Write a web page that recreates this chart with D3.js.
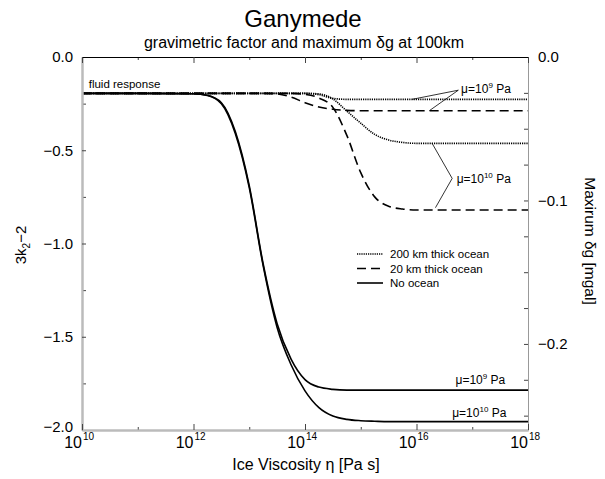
<!DOCTYPE html>
<html>
<head>
<meta charset="utf-8">
<script src="https://cdn.jsdelivr.net/npm/d3@7"></script>
<style>
body { margin: 0; background: #fff; }
text { font-family: "Liberation Sans", Arial, Helvetica, sans-serif; fill: #000; }
</style>
</head>
<body>
<div id="vis"></div>
<script>
// log10 of ice viscosity [Pa s]
var logEta = [10, 11, 12, 12.25, 12.5, 12.75, 13, 13.25, 13.5, 13.75, 14, 14.25, 14.5, 14.75, 15, 15.25, 15.5, 15.75, 16, 17, 18];

// 3k2-2
var noOcean_mu9   = [-0.195, -0.195, -0.197, -0.205, -0.245, -0.40, -0.69, -1.11, -1.43, -1.62, -1.73, -1.77, -1.782, -1.786, -1.786, -1.786, -1.786, -1.786, -1.786, -1.786, -1.786];
var noOcean_mu10  = [-0.195, -0.195, -0.197, -0.206, -0.25, -0.41, -0.70, -1.12, -1.45, -1.65, -1.79, -1.88, -1.925, -1.943, -1.95, -1.953, -1.955, -1.955, -1.955, -1.955, -1.955];
var ocean20_mu9   = [-0.195, -0.195, -0.195, -0.195, -0.195, -0.195, -0.195, -0.195, -0.198, -0.215, -0.245, -0.268, -0.28, -0.286, -0.288, -0.288, -0.288, -0.288, -0.288, -0.288, -0.288];
var ocean20_mu10  = [-0.195, -0.195, -0.195, -0.195, -0.195, -0.195, -0.195, -0.195, -0.195, -0.195, -0.20, -0.22, -0.27, -0.42, -0.62, -0.75, -0.80, -0.815, -0.82, -0.82, -0.82];
var ocean200_mu9  = [-0.195, -0.195, -0.195, -0.195, -0.195, -0.195, -0.195, -0.195, -0.195, -0.195, -0.195, -0.202, -0.222, -0.227, -0.227, -0.227, -0.227, -0.227, -0.227, -0.227, -0.227];
var ocean200_mu10 = [-0.195, -0.195, -0.195, -0.195, -0.195, -0.195, -0.195, -0.195, -0.195, -0.195, -0.195, -0.198, -0.225, -0.29, -0.355, -0.415, -0.445, -0.458, -0.463, -0.463, -0.463];

var leftMajor  = [0, -0.5, -1, -1.5, -2];
var leftMinor  = [-0.25, -0.75, -1.25, -1.75];
var rightMajor = [0, -0.1, -0.2];
var rightMinor = [-0.025, -0.05, -0.075, -0.125, -0.15, -0.175, -0.225, -0.25];
var xExpMajor  = [10, 12, 14, 16, 18];
var xExpMinor  = [11, 13, 15, 17];

var legendNames  = ["200 km thick ocean", "20 km thick ocean", "No ocean"];
var legendDashes = ["1.2,1", "9,5", null];

var width = 605, height = 479;
var margin = {top: 57, right: 77, bottom: 49, left: 82};
var w = width - margin.left - margin.right;
var h = height - margin.top - margin.bottom;

var svg = d3.select("#vis")
  .append("svg")
  .attr("width", width)
  .attr("height", height);

var g = svg.append("g")
  .attr("transform", "translate(" + margin.left + "," + margin.top + ")");

var xScale = d3.scaleLinear().domain([10, 18]).range([0, w]);
var yScale = d3.scaleLinear().domain([0, -2]).range([0, h]);
var y2Scale = d3.scaleLinear().domain([0, -0.26]).range([0, h]);

// titles
svg.append("text")
  .attr("x", 303).attr("y", 27)
  .attr("text-anchor", "middle")
  .style("font-size", "24px")
  .text("Ganymede");

svg.append("text")
  .attr("x", 304).attr("y", 48)
  .attr("text-anchor", "middle")
  .style("font-size", "16px")
  .text("gravimetric factor and maximum δg at 100km");

// curves
var line = d3.line()
  .x(function(d){ return xScale(d[0]); })
  .y(function(d){ return yScale(d[1]); })
  .curve(d3.curveMonotoneX);

function pairs(vals){
  return logEta.map(function(e, i){ return [e, vals[i]]; });
}

var series = [
  {vals: ocean200_mu9,  dash: "1.2,1", sw: 1.7},
  {vals: ocean200_mu10, dash: "1.2,1", sw: 1.6},
  {vals: ocean20_mu9,   dash: "9,5",   sw: 1.6},
  {vals: ocean20_mu10,  dash: "9,5",   sw: 1.6},
  {vals: noOcean_mu9,   dash: null,    sw: 1.6},
  {vals: noOcean_mu10,  dash: null,    sw: 1.6}
];

g.selectAll(".curve")
  .data(series)
  .enter()
  .append("path")
  .attr("class", "curve")
  .attr("d", function(d){ return line(pairs(d.vals)); })
  .attr("fill", "none")
  .attr("stroke", "#000")
  .attr("stroke-width", function(d){ return d.sw; })
  .attr("stroke-dasharray", function(d){ return d.dash; });

// axes
function styleAxis(sel, col, wd){
  sel.select(".domain").attr("stroke", col).attr("stroke-width", wd);
  sel.selectAll(".tick line").attr("stroke", "#444");
}

// left
g.append("g")
  .call(d3.axisLeft(yScale).tickValues(leftMinor).tickSizeInner(-4).tickSizeOuter(0).tickFormat(""))
  .call(styleAxis, "#bbb", 2);
var yl = g.append("g")
  .call(d3.axisLeft(yScale).tickValues(leftMajor).tickSizeInner(-4).tickSizeOuter(0).tickPadding(9).tickFormat(d3.format(".1f")))
  .call(styleAxis, "#bbb", 2);
yl.selectAll(".tick text").style("font-size", "15px").attr("fill", "#000");
yl.selectAll(".tick text").filter(function(d){ return d == -2; }).attr("dy", "0.1em");

// right
g.append("g")
  .attr("transform", "translate(" + w + ",0)")
  .call(d3.axisRight(y2Scale).tickValues(rightMinor).tickSizeInner(-4).tickSizeOuter(0).tickFormat(""))
  .call(styleAxis, "#999", 1);
var yr = g.append("g")
  .attr("transform", "translate(" + w + ",0)")
  .call(d3.axisRight(y2Scale).tickValues(rightMajor).tickSizeInner(-4).tickSizeOuter(0).tickPadding(10).tickFormat(d3.format(".1f")))
  .call(styleAxis, "#999", 1);
yr.selectAll(".tick text").style("font-size", "15px").attr("fill", "#000");

// bottom
g.append("g")
  .attr("transform", "translate(0," + h + ")")
  .call(d3.axisBottom(xScale).tickValues(xExpMinor).tickSizeInner(-3).tickSizeOuter(0).tickFormat(""))
  .call(styleAxis, "#bbb", 2);
g.append("g")
  .attr("transform", "translate(0," + h + ")")
  .call(d3.axisBottom(xScale).tickValues(xExpMajor).tickSizeInner(-6).tickSizeOuter(0).tickFormat(""))
  .call(styleAxis, "#bbb", 2);

// top
g.append("g")
  .call(d3.axisTop(xScale).tickValues(xExpMinor).tickSizeInner(-3).tickSizeOuter(0).tickFormat(""))
  .call(styleAxis, "#000", 1);
g.append("g")
  .call(d3.axisTop(xScale).tickValues(xExpMajor).tickSizeInner(-6).tickSizeOuter(0).tickFormat(""))
  .call(styleAxis, "#000", 1);

// x tick labels 10^n
var xl = g.selectAll(".xlab")
  .data(xExpMajor)
  .enter()
  .append("g")
  .attr("class", "xlab")
  .attr("transform", function(d){ return "translate(" + xScale(d) + "," + (h + 18) + ")"; });
xl.append("text")
  .attr("text-anchor", "end")
  .attr("x", 0)
  .style("font-size", "16px")
  .text("10");
xl.append("text")
  .attr("x", 1)
  .attr("y", -8)
  .style("font-size", "10px")
  .text(function(d){ return d; });

// axis titles
g.append("text")
  .attr("x", w / 2 + 1)
  .attr("y", h + 40)
  .attr("text-anchor", "middle")
  .style("font-size", "16px")
  .text("Ice Viscosity η [Pa s]");

var ylab = svg.append("text")
  .attr("transform", "translate(26,245) rotate(-90)")
  .attr("text-anchor", "middle")
  .style("font-size", "15px");
ylab.append("tspan").text("3k");
ylab.append("tspan").attr("dy", 4).style("font-size", "10px").text("2");
ylab.append("tspan").attr("dy", -4).text("−2");

svg.append("text")
  .attr("transform", "translate(585,241) rotate(90)")
  .attr("text-anchor", "middle")
  .style("font-size", "15.5px")
  .text("Maxirum δg [mgal]");

// annotations
g.append("text")
  .attr("x", xScale(10.12))
  .attr("y", yScale(-0.165))
  .style("font-size", "11.5px")
  .text("fluid response");

function muLabel(xe, yv, exp){
  var t = g.append("text")
    .attr("x", xScale(xe))
    .attr("y", yScale(yv))
    .style("font-size", "12px");
  t.append("tspan").text("μ=10");
  t.append("tspan").attr("dy", -5).style("font-size", "8px").text(exp);
  t.append("tspan").attr("dy", 5).text(" Pa");
}
muLabel(16.8, -0.195, "9");
muLabel(16.72, -0.676, "10");
muLabel(16.7, -1.753, "9");
muLabel(16.64, -1.93, "10");

// leader lines [logEta, value]
var leader9  = [[15.92, -0.227], [16.75, -0.178], [16.23, -0.288]];
var leader10 = [[16.28, -0.463], [16.64, -0.651], [16.34, -0.808]];
var lin = d3.line()
  .x(function(d){ return xScale(d[0]); })
  .y(function(d){ return yScale(d[1]); });
[leader9, leader10].forEach(function(pts){
  g.append("path")
    .attr("d", lin(pts))
    .attr("fill", "none")
    .attr("stroke", "#000")
    .attr("stroke-width", 0.8);
});

// legend
var leg = svg.append("g").attr("transform", "translate(357,254)");
legendNames.forEach(function(name, i){
  leg.append("line")
    .attr("x1", 0).attr("x2", 26)
    .attr("y1", i * 14.5).attr("y2", i * 14.5)
    .attr("stroke", "#000")
    .attr("stroke-width", 1.6)
    .attr("stroke-dasharray", legendDashes[i]);
  leg.append("text")
    .attr("x", 33)
    .attr("y", i * 14.5 + 4)
    .style("font-size", "11.5px")
    .text(name);
});
</script>
</body>
</html>
